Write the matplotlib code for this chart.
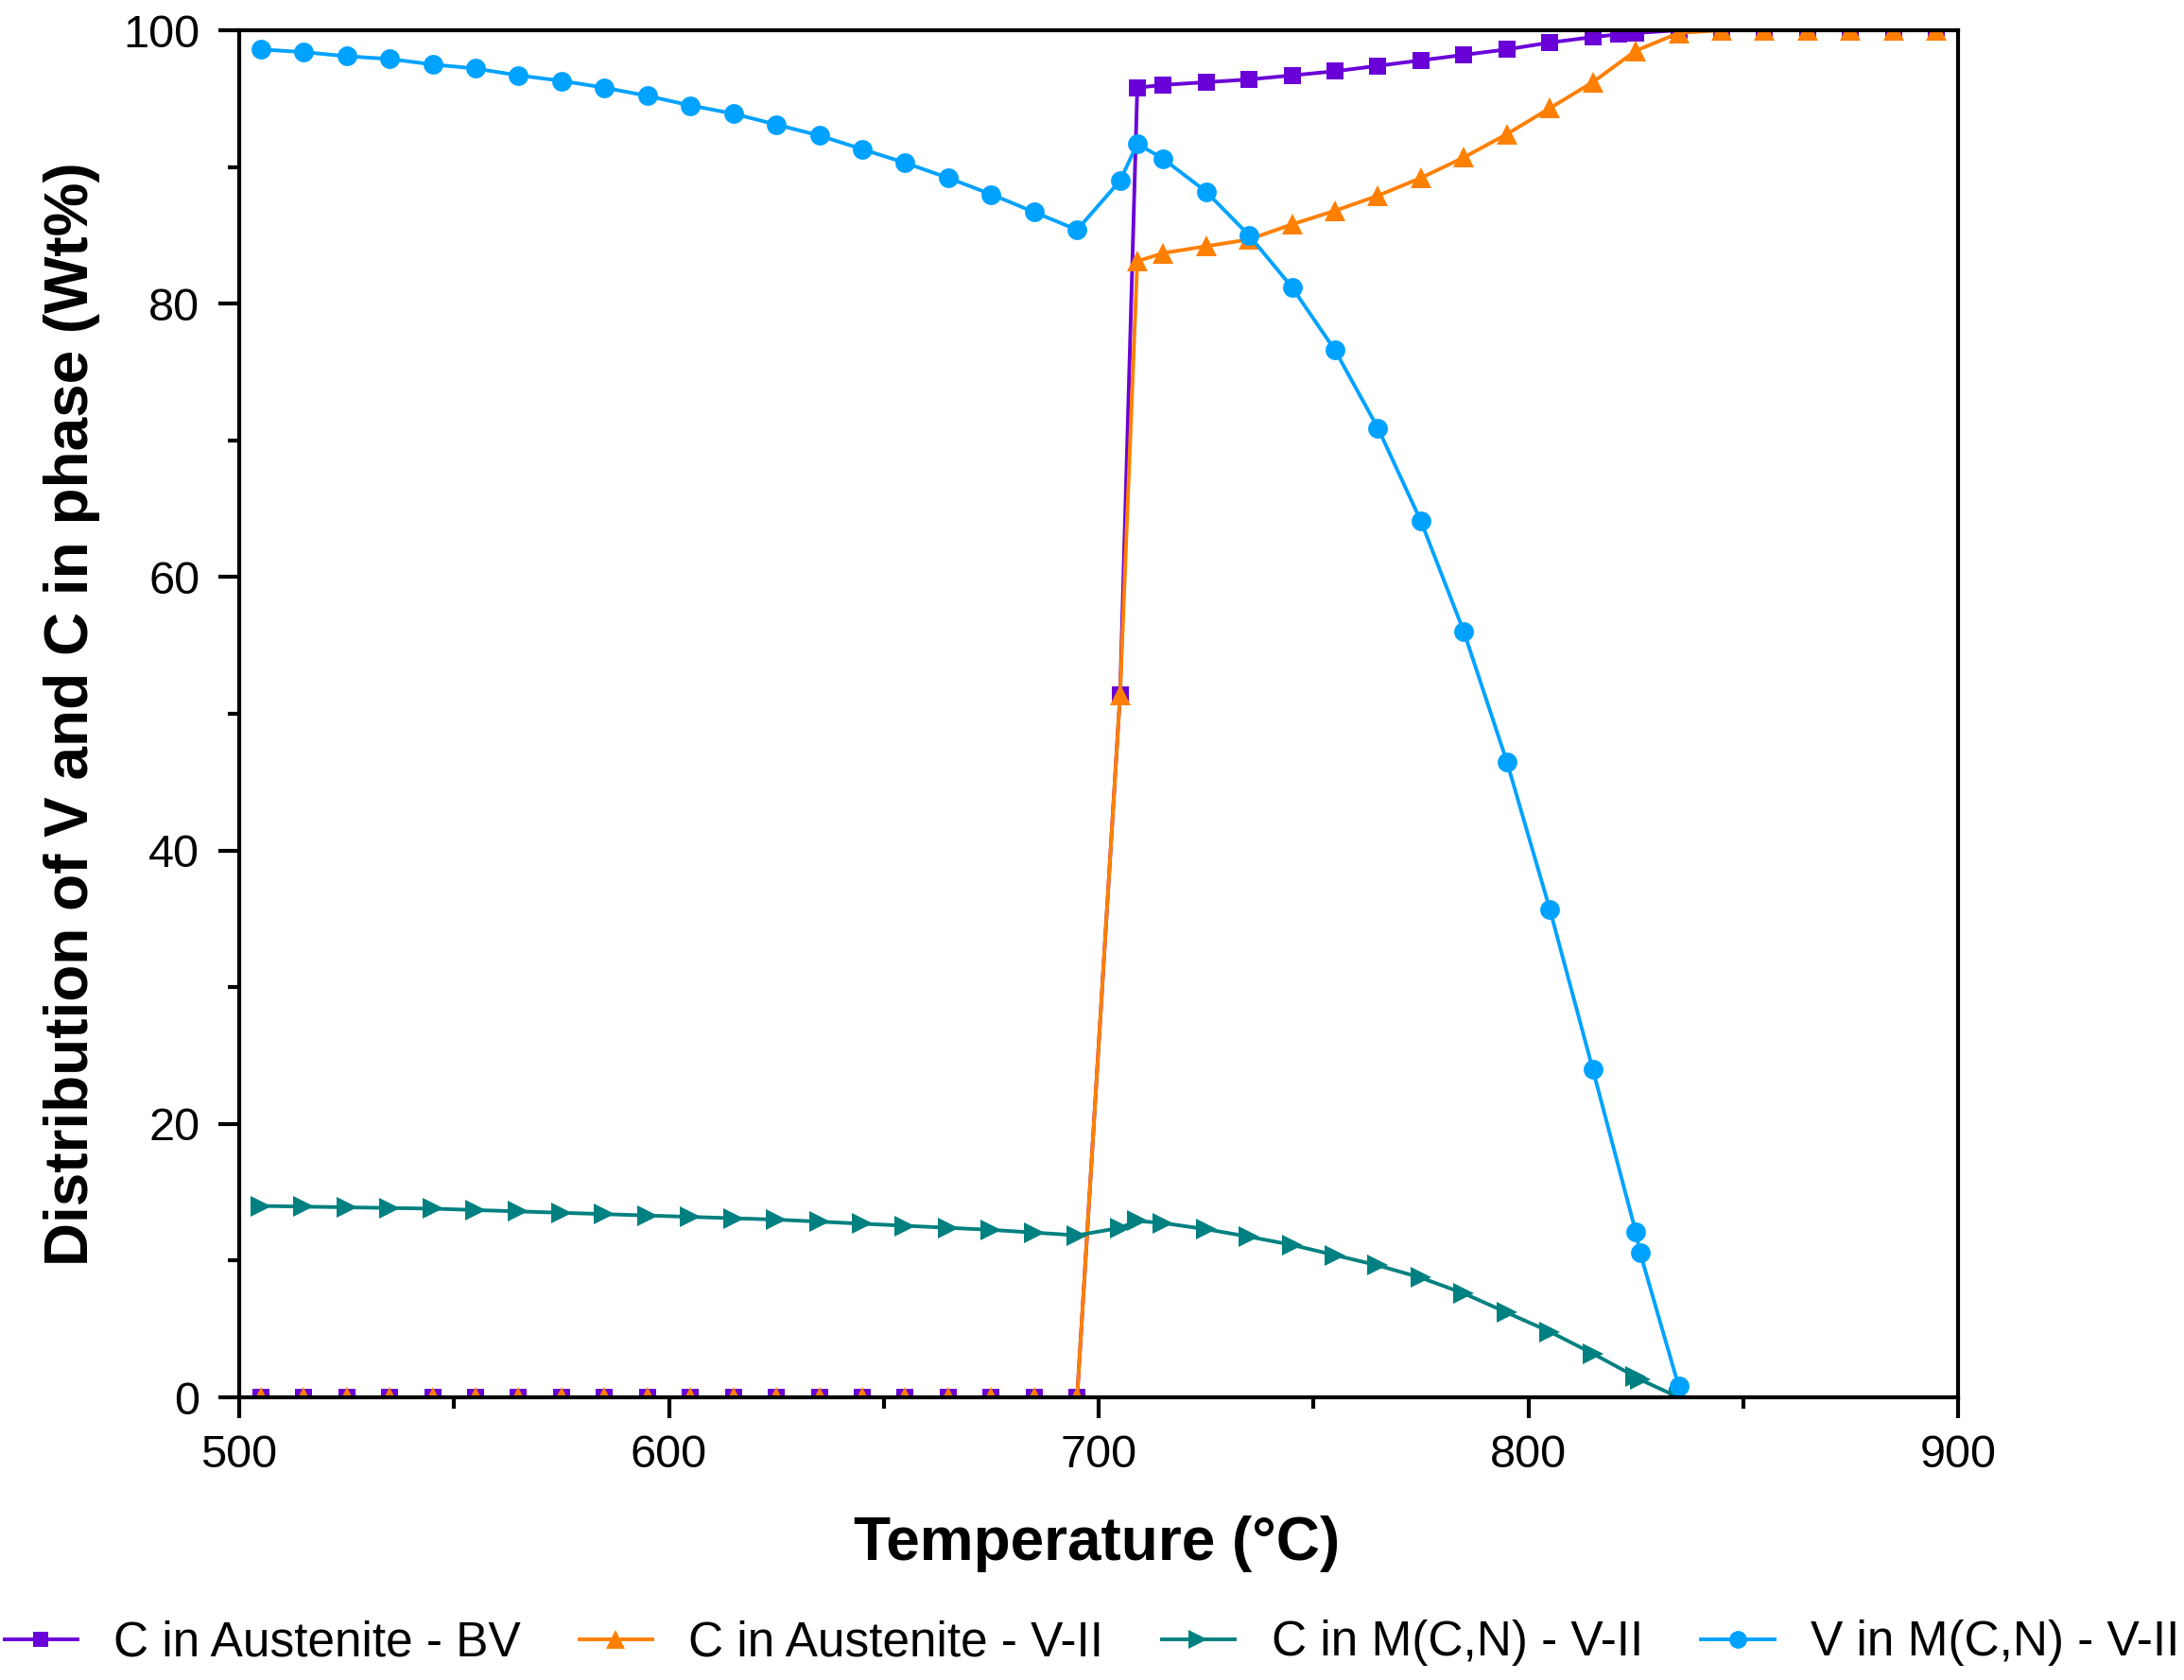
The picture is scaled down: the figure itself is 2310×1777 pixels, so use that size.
import matplotlib
matplotlib.use("Agg")
import matplotlib.pyplot as plt
from matplotlib.ticker import MultipleLocator

plt.rcParams['font.family'] = ['Liberation Sans', 'DejaVu Sans']

# ---------------- data ----------------
T_low = [505, 515, 525, 535, 545, 555, 565, 575, 585, 595,
         605, 615, 625, 635, 645, 655, 665, 675, 685, 695]

# C in Austenite - BV
bv_T = T_low + [705, 709, 715, 725, 735, 745, 755, 765, 775, 785, 795,
                805, 815, 821, 825, 835, 845, 855, 865, 875, 885, 895]
bv_C = [0.0] * 20 + [51.4, 95.8, 96.0, 96.2, 96.4, 96.7, 97.0, 97.4, 97.8, 98.2, 98.6,
                     99.1, 99.5, 99.7, 99.8, 100, 100, 100, 100, 100, 100, 100]

# C in Austenite - V-II
v2a_T = T_low + [705, 709, 715, 725, 735, 745, 755, 765, 775, 785, 795,
                 805, 815, 825, 835, 845, 855, 865, 875, 885, 895]
v2a_C = [0.0] * 20 + [51.4, 83.1, 83.7, 84.2, 84.7, 85.8, 86.8, 87.9, 89.2, 90.7, 92.4,
                      94.3, 96.2, 98.5, 99.8, 100, 100, 100, 100, 100, 100]

# C in M(C,N) - V-II
mcn_T = T_low + [705, 709, 715, 725, 735, 745, 755, 765, 775, 785, 795,
                 805, 815, 825, 826, 835]
mcn_C = [14.0, 13.95, 13.9, 13.85, 13.8, 13.7, 13.6, 13.5, 13.4, 13.3,
         13.2, 13.1, 13.0, 12.85, 12.7, 12.55, 12.4, 12.25, 12.05, 11.85,
         12.4, 12.9, 12.75, 12.3, 11.75, 11.15, 10.4, 9.65, 8.75, 7.6, 6.2,
         4.8, 3.2, 1.5, 1.3, 0.0]

# V in M(C,N) - V-II
mcnV_T = T_low + [705, 709, 715, 725, 735, 745, 755, 765, 775, 785, 795,
                  805, 815, 825, 826, 835]
mcnV_V = [98.6, 98.4, 98.1, 97.9, 97.5, 97.2, 96.7, 96.3, 95.8, 95.2,
          94.5, 93.9, 93.1, 92.3, 91.3, 90.3, 89.2, 88.0, 86.7, 85.4,
          89.0, 91.7, 90.6, 88.2, 85.0, 81.2, 76.6, 70.9, 64.1, 56.0, 46.5,
          35.7, 24.0, 12.1, 10.6, 0.8]

labels = ["C in Austenite - BV", "C in Austenite - V-II",
          "C in M(C,N) - V-II", "V in M(C,N) - V-II"]
colors = ["#6A00D8", "#FF8000", "#008080", "#00A2FF"]
markers = ["s", "^", ">", "o"]

# ---------------- figure ----------------
fig = plt.figure(figsize=(23.1, 17.77), dpi=100)
ax = fig.add_axes([253 / 2310, 1 - 1478 / 1777, (2071 - 253) / 2310, (1478 - 32) / 1777])

series = [(bv_T, bv_C), (v2a_T, v2a_C), (mcn_T, mcn_C), (mcnV_T, mcnV_V)]
msz = [13, 16, 16, 15]
for (x, y), lab, c, m, ms in zip(series, labels, colors, markers, msz):
    ax.plot(x, y, color=c, marker=m, markersize=ms, linewidth=2.8,
            markeredgewidth=0, label=lab)

ax.set_xlim(500, 900)
ax.set_ylim(0, 100)
ax.xaxis.set_major_locator(MultipleLocator(100))
ax.xaxis.set_minor_locator(MultipleLocator(50))
ax.yaxis.set_major_locator(MultipleLocator(20))
ax.yaxis.set_minor_locator(MultipleLocator(10))
ax.tick_params(which='major', direction='out', length=16, width=3, labelsize=35)
ax.tick_params(which='minor', direction='out', length=8.5, width=3)
ax.tick_params(axis='x', which='major', pad=12)
ax.tick_params(axis='y', which='major', pad=14)
for sp in ax.spines.values():
    sp.set_linewidth(3)

fig.text(1160 / 2310, 1 - 1650 / 1777, "Temperature (°C)", ha='center', va='baseline',
         fontsize=46, fontweight='bold')
fig.text(93 / 2310, 1 - 755 / 1777, "Distribution of V and C in phase (Wt%)",
         ha='center', va='baseline', rotation=90, rotation_mode='anchor',
         fontsize=46, fontweight='bold')

handles, labs = ax.get_legend_handles_labels()
fig.legend(handles, labs, loc='center', bbox_to_anchor=(0.5, 1 - 1738 / 1777),
           ncol=4, frameon=False, fontsize=37, handlelength=1.5, handletextpad=0.75,
           columnspacing=1.2, borderaxespad=0, markerscale=0.9)

fig.savefig("out.png", dpi=100)
